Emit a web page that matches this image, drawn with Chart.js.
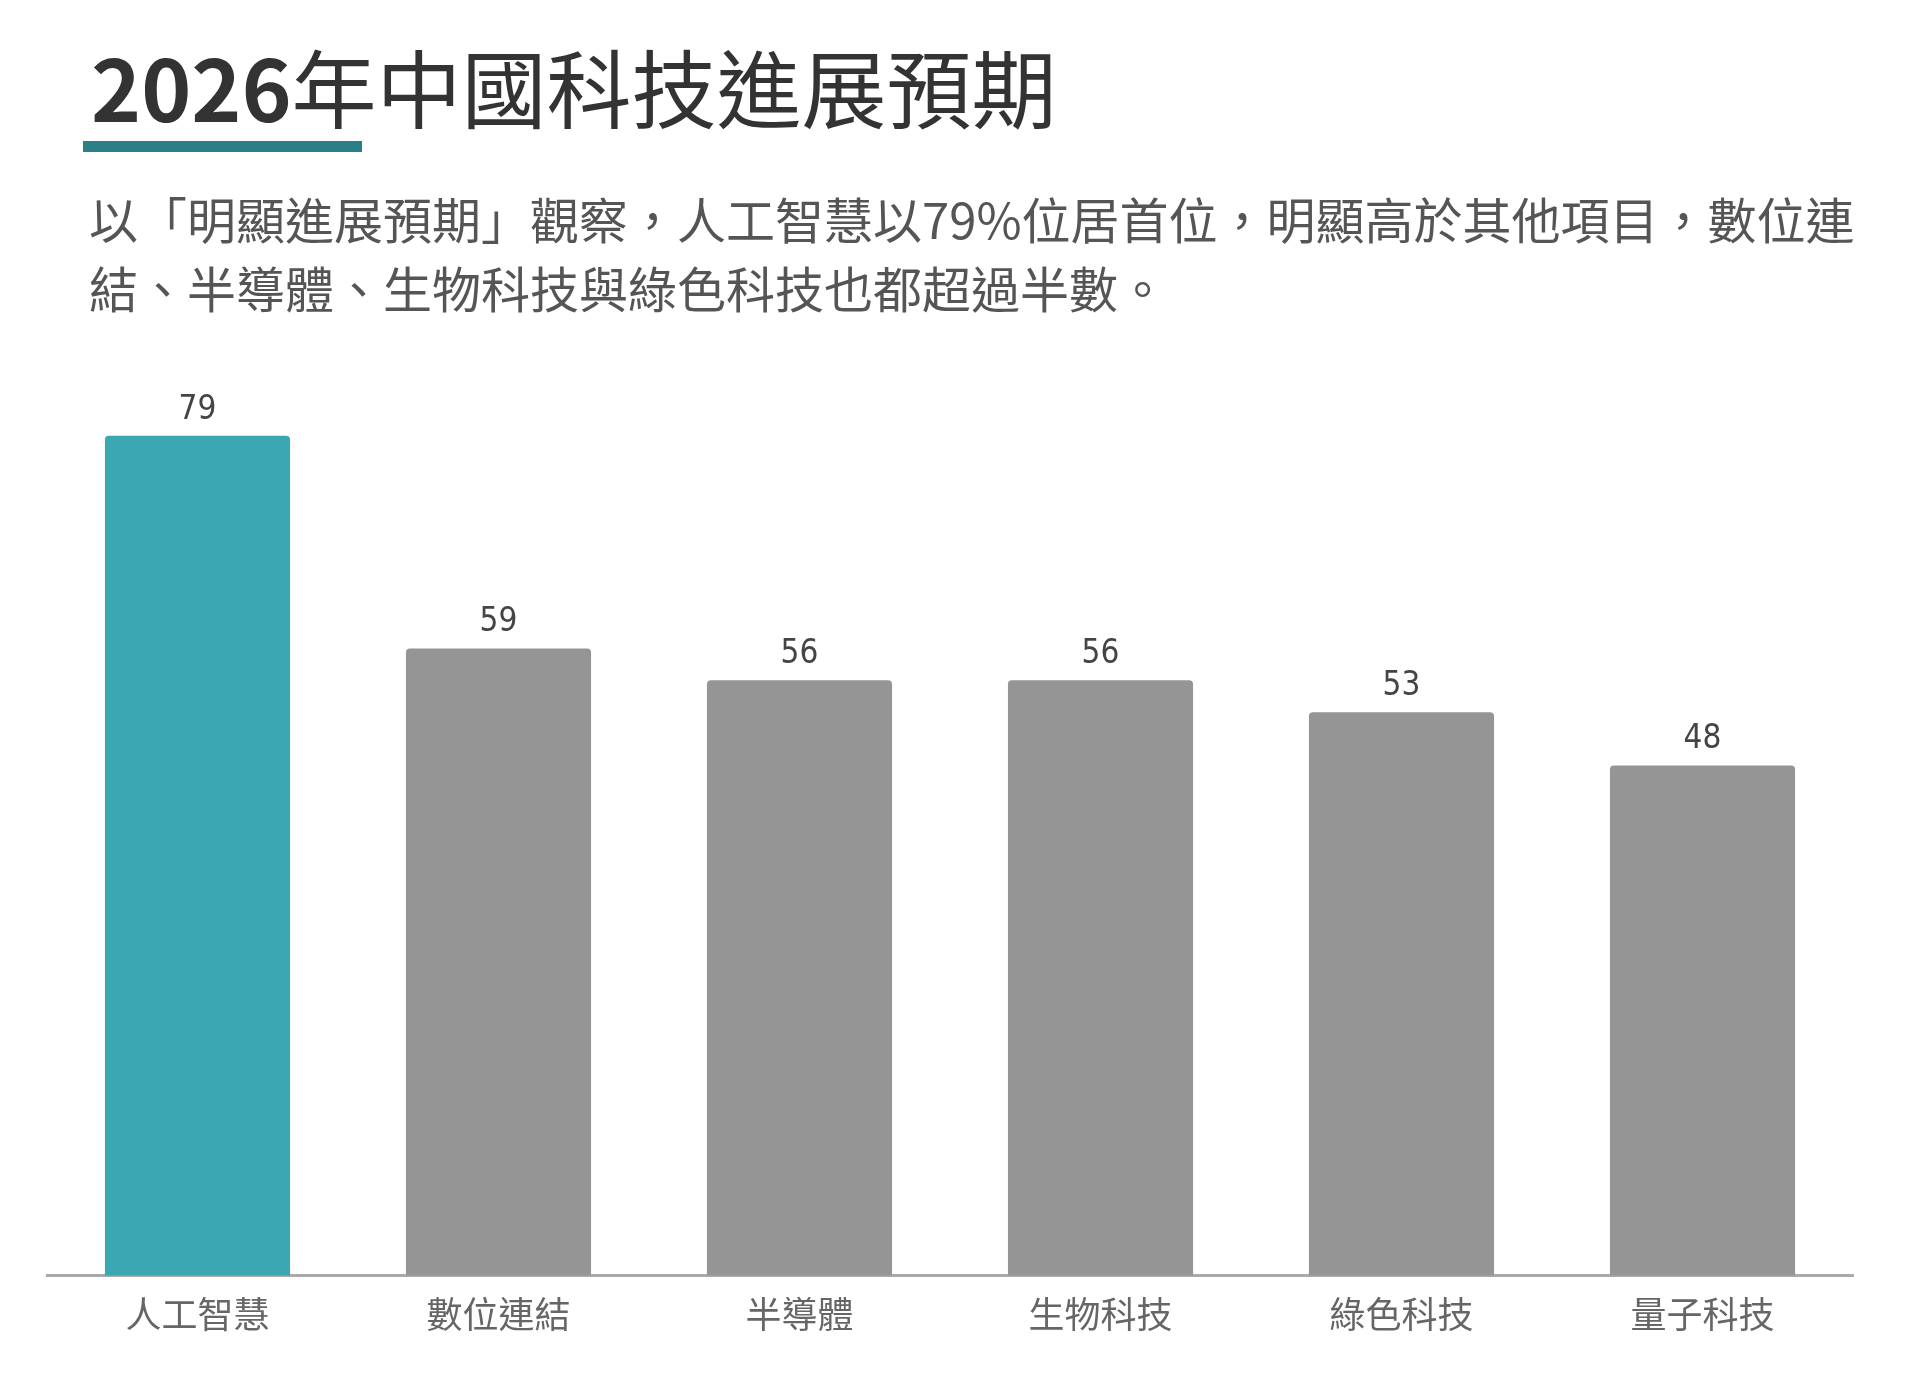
<!DOCTYPE html>
<html lang="zh-Hant">
<head>
<meta charset="utf-8">
<title>2026年中國科技進展預期</title>
<script src="https://cdn.jsdelivr.net/npm/chart.js@4.4.1/dist/chart.umd.min.js"></script>
<style>
  html, body { margin: 0; padding: 0; background: #fff; }
  body { width: 1920px; height: 1374px; position: relative; overflow: hidden; font-family: "Noto Sans CJK TC", "Noto Sans", sans-serif; }
  .title { position: absolute; left: 91px; top: 42px; font-size: 85px; line-height: 86px; color: #333; white-space: nowrap; }
  .title .yr { font-weight: 700; }
  .bar-line { position: absolute; left: 83px; top: 141px; width: 279px; height: 11px; background: #2b7f87; }
  .subtitle { position: absolute; left: 89px; top: 183px; font-size: 49px; line-height: 69px; color: #555; white-space: nowrap; }
  .chart-wrap { position: absolute; left: 0; top: 300px; width: 1920px; height: 1074px; }
</style>
</head>
<body>
<div class="title"><span class="yr">2026</span>年中國科技進展預期</div>
<div class="bar-line"></div>
<div class="subtitle">以「明顯進展預期」觀察，人工智慧以79%位居首位，明顯高於其他項目，數位連<br>結、半導體、生物科技與綠色科技也都超過半數。</div>
<div class="chart-wrap"><canvas id="chart"></canvas></div>
<script>
// data
const categories = ['人工智慧', '數位連結', '半導體', '生物科技', '綠色科技', '量子科技'];
const values = [79, 59, 56, 56, 53, 48];
const barColors = ['#3ba7b3', '#959595', '#959595', '#959595', '#959595', '#959595'];

// value labels above bars
const valueLabels = {
  id: 'valueLabels',
  afterDatasetsDraw(chart) {
    const ctx = chart.ctx;
    const meta = chart.getDatasetMeta(0);
    ctx.save();
    ctx.fillStyle = '#444';
    ctx.font = '33px "Liberation Sans Narrow", "DejaVu Sans Condensed", "Noto Sans CJK TC", sans-serif';
    ctx.textAlign = 'center';
    ctx.textBaseline = 'alphabetic';
    meta.data.forEach((bar, i) => {
      ctx.fillText(values[i], bar.x, bar.y - 17);
    });
    ctx.restore();
  }
};

new Chart(document.getElementById('chart'), {
  type: 'bar',
  data: {
    labels: categories,
    datasets: [{
      data: values,
      backgroundColor: barColors,
      borderRadius: 4,
      borderSkipped: 'bottom',
      categoryPercentage: 1,
      barPercentage: 0.615
    }]
  },
  options: {
    responsive: true,
    maintainAspectRatio: false,
    animation: false,
    layout: { padding: { top: 22, left: 47, right: 67, bottom: 21 } },
    plugins: { legend: { display: false }, tooltip: { enabled: false } },
    scales: {
      x: {
        grid: { display: false, drawTicks: false },
        border: { display: true, color: '#aaaaaa', width: 3 },
        ticks: { color: '#666', padding: 17, font: { family: '"Noto Sans CJK TC", sans-serif', size: 36 } },
        afterFit(scale) { scale.paddingLeft = 0; scale.paddingRight = 0; }
      },
      y: { display: false, min: 0, max: 89.7 }
    }
  },
  plugins: [valueLabels]
});
</script>
</body>
</html>
